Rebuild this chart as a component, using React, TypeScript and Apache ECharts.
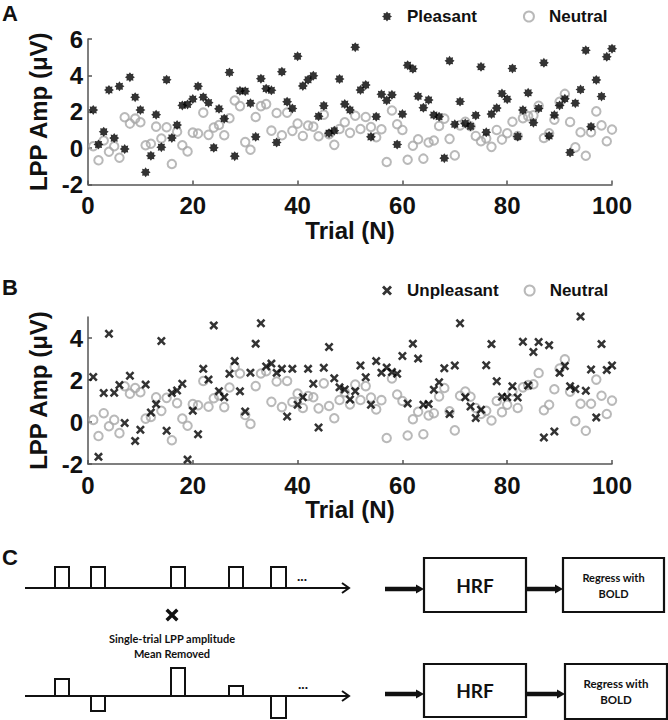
import React, { useEffect, useRef } from 'react';
import * as echarts from 'echarts';

// ---------- data ----------
const trialTicks = [0, 20, 40, 60, 80, 100];
const yTicksA = [-2, 0, 2, 4, 6];
const yTicksB = [-2, 0, 2, 4];

const pleasant = [
  2.1, 0.2, 0.9, 3.2, 0.55, 3.4, -0.05, 3.9, 2.8, 2.1,
  -1.33, -0.42, 1.84, 0.05, 3.76, 0.56, 1.27, 2.35, 2.4, 2.7,
  3.4, 2.8, 2.5, 0.02, 2.16, 1.62, 4.16, -0.44, 3.15, 3.13,
  2.47, 0.62, 3.82, 3.27, 3.18, 0.31, 4.2, 2.55, 2.18, 5.05,
  3.42, 3.76, 3.98, 1.75, 2.33, 0.82, 0.96, 3.8, 2.42, 2.1,
  5.55, 3.2, 3.47, 0.62, 1.73, 2.96, 2.62, 2.93, 0.2, 1.87,
  4.56, 4.36, 2.85, 2.22, 2.65, 1.82, 1.73, -0.55, 4.8, 1.31,
  2.56, 1.36, 1.2, 1.8, 4.47, 0.87, 1.87, 2.2, 3.0, 2.69,
  4.38, 0.64, 2.09, 3.04, 1.4, 2.18, 4.69, 0.67, 1.82, 2.35,
  2.71, -0.24, 2.47, 3.22, 5.38, 1.18, 3.75, 2.84, 5.02, 5.47,
];

const neutral = [
  0.1, -0.67, 0.42, -0.2, 0.1, -0.53, 1.7, 1.35, 1.62, 1.42,
  0.16, 0.24, 1.18, 0.53, 1.15, -0.87, 0.9, 0.16, -0.18, 0.85,
  0.8, 1.95, 0.73, 1.13, 1.27, 0.71, 1.64, 2.62, 2.31, 0.33,
  -0.09, 1.71, 2.31, 2.42, 0.96, 1.93, 0.71, 1.95, 0.95, 1.35,
  0.67, 1.24, 1.18, 0.65, 1.84, 0.76, 0.18, 1.05, 1.42, 0.84,
  1.78, 1.05, 1.71, 1.16, 0.6, 1.04, -0.76, 2.07, 1.31, 1.0,
  -0.64, 0.13, 0.49, -0.58, 0.31, 0.42, 1.22, 1.62, 0.51, -0.4,
  1.25, 1.45, 1.2, 0.67, 0.38, 0.53, 0.07, 1.0, 0.47, 0.82,
  1.45, 0.67, 1.65, 1.76, 1.8, 2.33, 0.56, 0.82, 1.56, 2.55,
  2.98, 1.44, 0.04, 0.87, -0.42, 0.87, 2.02, 1.25, 0.38, 1.02,
];

const unpleasant = [
  2.14, -1.66, 1.38, 4.2, 1.39, 1.76, -0.05, 2.2, -0.9, -0.37,
  1.78, 0.45, 0.85, 3.86, -0.42, 1.38, 1.5, 1.82, -1.79, 0.54,
  -0.58, 2.53, 2.02, 4.6, 1.47, 1.18, 2.3, 2.9, 1.46, 0.5,
  2.35, 3.73, 4.7, 2.64, 2.78, 2.34, 2.53, 0.26, 2.53, 0.82,
  1.18, 2.53, 1.82, -0.26, 2.58, 3.57, 2.08, 1.65, 1.55, 1.07,
  1.47, 2.69, 2.13, 0.82, 2.9, 2.35, 2.59, 2.38, 2.3, 3.14,
  0.88, 3.73, 3.02, 0.82, 0.86, 1.54, 1.89, 2.56, 0.38, 2.69,
  4.7, 1.18, 0.74, 0.19, 0.58, 2.7, 3.71, 1.94, 1.2, 1.18,
  1.7, 1.17, 3.82, 1.74, 3.33, 3.81, -0.74, 3.66, -0.45, 2.34,
  2.67, 1.7, 1.57, 5.02, 1.49, 2.5, 0.22, 3.71, 2.48, 2.69,
];

// panel C pulse amplitudes (relative heights, px)
const pulseXs = [55, 91, 171, 229, 271];
const pulseW = [14, 14, 14, 14, 15];
const meanRemovedHeights = [17, -15, 28, 10, -22];

// ---------- marker shapes ----------
const STAR_PATH = (() => {
  let d = '';
  for (let k = 0; k < 16; k++) {
    const a = (k * Math.PI) / 8 - Math.PI / 2;
    const r = k % 2 === 0 ? 10 : 6.8;
    d += (k === 0 ? 'M' : 'L') + (10 + r * Math.cos(a)).toFixed(2) + ',' + (10 + r * Math.sin(a)).toFixed(2);
  }
  return 'path://' + d + 'Z';
})();
const X_PATH =
  'path://M0,2L2,0L5,3L8,0L10,2L7,5L10,8L8,10L5,7L2,10L0,8L3,5Z';

const FONT = 'Liberation Sans, Arial, sans-serif';
const CFONT = 'Lato, Open Sans, sans-serif';
const INK = '#111';
const AXIS = '#555';

function toPoints(arr: number[]) {
  return arr.map((v, i) => [i + 1, v]);
}

function buildXAxis(gridIndex: number, nameGap: number) {
  return {
    type: 'value',
    gridIndex,
    min: 0,
    max: 100,
    interval: 20,
    name: 'Trial (N)',
    nameLocation: 'middle',
    nameGap,
    nameTextStyle: { fontSize: 24, fontWeight: 'bold', color: INK, fontFamily: FONT },
    axisLine: { show: true, onZero: false, lineStyle: { color: AXIS, width: 1.5 } },
    axisTick: { show: true, inside: true, length: 4, lineStyle: { color: AXIS, width: 1.5 }, customValues: trialTicks },
    axisLabel: { fontSize: 24, fontWeight: 'bold', color: INK, fontFamily: FONT, margin: 9, customValues: trialTicks },
    splitLine: { show: false },
  };
}

function buildYAxis(gridIndex: number, max: number, ticks: number[]) {
  return {
    type: 'value',
    gridIndex,
    min: -2,
    max,
    interval: 2,
    name: 'LPP Amp (\u03bcV)',
    nameLocation: 'middle',
    nameGap: 36,
    nameRotate: 90,
    nameTextStyle: { fontSize: 24, fontWeight: 'bold', color: INK, fontFamily: FONT },
    axisLine: { show: true, onZero: false, lineStyle: { color: AXIS, width: 1.5 } },
    axisTick: { show: true, inside: true, length: 4, lineStyle: { color: AXIS, width: 1.5 }, customValues: ticks },
    axisLabel: { fontSize: 24, fontWeight: 'bold', color: INK, fontFamily: FONT, margin: 5, customValues: ticks },
    splitLine: { show: false },
  };
}

function txt(text: string, x: number, y: number, font: string, align = 'center') {
  return {
    type: 'text',
    silent: true,
    style: {
      text,
      x,
      y,
      font,
      fill: INK,
      align,
      verticalAlign: 'middle',
      textAlign: align,
      textVerticalAlign: 'middle',
    },
  };
}

function pl(points: number[][], lineWidth = 2) {
  return {
    type: 'polyline',
    silent: true,
    shape: { points },
    style: { stroke: INK, lineWidth, fill: null, lineJoin: 'miter' },
  };
}

function pg(points: number[][]) {
  return { type: 'polygon', silent: true, shape: { points }, style: { fill: INK } };
}

function box(x: number, y: number, w: number, h: number) {
  return {
    type: 'rect',
    silent: true,
    shape: { x, y, width: w, height: h },
    style: { stroke: INK, lineWidth: 2.2, fill: null },
  };
}

function buildPanelC() {
  const els: any[] = [];
  const topBase = 588;
  const botBase = 696;
  // top timeline
  els.push(pl([[25, topBase], [349, topBase]]));
  els.push(pl([[342, topBase - 5], [349, topBase], [342, topBase + 5]]));
  pulseXs.forEach((x, i) => {
    const w = pulseW[i];
    els.push(pl([[x, topBase], [x, topBase - 21], [x + w, topBase - 21], [x + w, topBase]]));
  });
  els.push(txt('...', 302, topBase - 13, 'bold 14px ' + CFONT));
  // multiply mark
  const cx = 172, cy = 615, s = 6.5, t = 2.4;
  els.push(pg([
    [cx - s, cy - s + t], [cx - s + t, cy - s], [cx, cy - t], [cx + s - t, cy - s], [cx + s, cy - s + t],
    [cx + t, cy], [cx + s, cy + s - t], [cx + s - t, cy + s], [cx, cy + t], [cx - s + t, cy + s],
    [cx - s, cy + s - t], [cx - t, cy],
  ]));
  els.push(txt('Single-trial LPP amplitude', 172, 638, 'bold 11px ' + CFONT));
  els.push(txt('Mean Removed', 172, 653, 'bold 11px ' + CFONT));
  // bottom timeline
  els.push(pl([[25, botBase], [349, botBase]]));
  els.push(pl([[342, botBase - 5], [349, botBase], [342, botBase + 5]]));
  pulseXs.forEach((x, i) => {
    const w = pulseW[i];
    const h = meanRemovedHeights[i];
    els.push(pl([[x, botBase], [x, botBase - h], [x + w, botBase - h], [x + w, botBase]]));
  });
  els.push(txt('...', 303, 683, 'bold 14px ' + CFONT));

  // block diagrams
  const rows = [
    { y: 589, hrf: [424, 558, 102, 54], reg: [563, 558, 101, 54], fs: 11 },
    { y: 694, hrf: [424, 664, 102, 53], reg: [565, 664, 102, 55], fs: 11.5 },
  ];
  rows.forEach((r) => {
    els.push(pl([[385, r.y], [419, r.y]], 4.5));
    els.push(pg([[416, r.y - 4.5], [424, r.y], [416, r.y + 4.5]]));
    els.push(box(r.hrf[0], r.hrf[1], r.hrf[2], r.hrf[3]));
    els.push(txt('HRF', r.hrf[0] + r.hrf[2] / 2, r.hrf[1] + r.hrf[3] / 2, 'bold 19px ' + CFONT));
    const ax0 = r.hrf[0] + r.hrf[2];
    const ax1 = r.reg[0];
    els.push(pl([[ax0, r.y], [ax1 - 5, r.y]], 4.5));
    els.push(pg([[ax1 - 8, r.y - 4.5], [ax1, r.y], [ax1 - 8, r.y + 4.5]]));
    els.push(box(r.reg[0], r.reg[1], r.reg[2], r.reg[3]));
    const mx = r.reg[0] + r.reg[2] / 2;
    const my = r.reg[1] + r.reg[3] / 2;
    els.push(txt('Regress with', mx, my - 8, 'bold ' + r.fs + 'px ' + CFONT));
    els.push(txt('BOLD', mx, my + 8, 'bold ' + r.fs + 'px ' + CFONT));
  });

  // panel letters
  els.push(txt('A', 2, 13, 'bold 22px ' + FONT, 'left'));
  els.push(txt('B', 2, 287, 'bold 22px ' + FONT, 'left'));
  els.push(txt('C', 2, 557, 'bold 22px ' + FONT, 'left'));
  return els;
}

export default function App() {
  const ref = useRef<HTMLDivElement>(null);

  useEffect(() => {
    if (!ref.current) return;
    const chart = echarts.init(ref.current, undefined, { renderer: 'svg' });
    const legendText = {
      fontSize: 17,
      fontWeight: 'bold',
      color: INK,
      fontFamily: FONT,
      padding: [0, 0, 0, 10],
    };
    const neutralStyle = { color: 'rgba(0,0,0,0)', borderColor: '#a8a8a8', borderWidth: 2 };
    const option: any = {
      animation: false,
      backgroundColor: '#ffffff',
      grid: [
        { left: 88, right: 56, top: 39, height: 145.5 },
        { left: 88, right: 56, top: 317, height: 147 },
      ],
      legend: [
        {
          left: 377, top: 3, itemWidth: 10, itemHeight: 10, itemGap: 46,
          data: ['Pleasant', 'Neutral'], textStyle: legendText, selectedMode: false,
        },
        {
          left: 377, top: 277, itemWidth: 10, itemHeight: 10, itemGap: 25,
          data: ['Unpleasant', 'Neutral'], textStyle: legendText, selectedMode: false,
        },
      ],
      xAxis: [buildXAxis(0, 34), buildXAxis(1, 29)],
      yAxis: [buildYAxis(0, 6, yTicksA), buildYAxis(1, 5, yTicksB)],
      series: [
        {
          name: 'Neutral', type: 'scatter', xAxisIndex: 0, yAxisIndex: 0,
          data: toPoints(neutral), symbol: 'circle', symbolSize: 8.5,
          itemStyle: neutralStyle, z: 2, clip: false, emphasis: { disabled: true },
        },
        {
          name: 'Pleasant', type: 'scatter', xAxisIndex: 0, yAxisIndex: 0,
          data: toPoints(pleasant), symbol: STAR_PATH, symbolSize: 10,
          itemStyle: { color: '#000' }, z: 3, clip: false, emphasis: { disabled: true },
        },
        {
          name: 'Neutral', type: 'scatter', xAxisIndex: 1, yAxisIndex: 1,
          data: toPoints(neutral), symbol: 'circle', symbolSize: 8.5,
          itemStyle: neutralStyle, z: 2, clip: false, emphasis: { disabled: true },
        },
        {
          name: 'Unpleasant', type: 'scatter', xAxisIndex: 1, yAxisIndex: 1,
          data: toPoints(unpleasant), symbol: X_PATH, symbolSize: 9,
          itemStyle: { color: '#000' }, z: 3, clip: false, emphasis: { disabled: true },
        },
      ],
      graphic: { elements: buildPanelC() },
    };
    chart.setOption(option);
    return () => chart.dispose();
  }, []);

  return (
    <div
      ref={ref}
      style={{ position: 'absolute', left: 0, top: 0, width: 668, height: 720 }}
    />
  );
}
